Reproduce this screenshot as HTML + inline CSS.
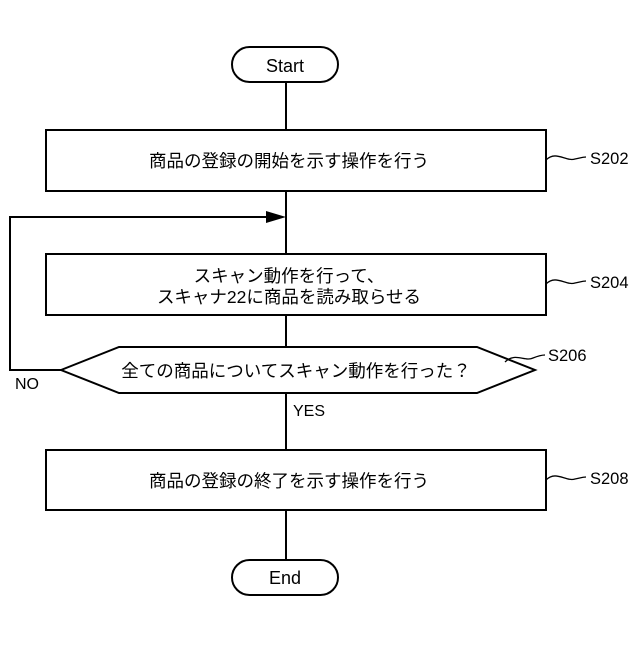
<!DOCTYPE html>
<html><head><meta charset="utf-8"><style>
body{margin:0;background:#fff}
svg text{font-family:"Liberation Sans","Noto Sans CJK JP",sans-serif;fill:#000}
</style></head><body>
<svg width="640" height="640" viewBox="0 0 640 640" xmlns="http://www.w3.org/2000/svg">
<g fill="none" stroke="#000" stroke-width="2">
<line x1="286" y1="82" x2="286" y2="560"/>
<rect x="232" y="47" width="106" height="35" rx="17.5" fill="#fff"/>
<rect x="232" y="560" width="106" height="35" rx="17.5" fill="#fff"/>
<rect x="46" y="130" width="500" height="61" fill="#fff"/>
<rect x="46" y="254" width="500" height="61" fill="#fff"/>
<rect x="46" y="450" width="500" height="60" fill="#fff"/>
<polygon points="61,370 119,347 477,347 535,370 477,393 119,393" fill="#fff"/>
<polyline points="61,370 10,370 10,217 270,217"/>
<path d="M546,160 C556,150 566,162 575,159 C580,158 583,157 586,157" stroke-width="1.3"/>
<path d="M546,284 C556,274 566,286 575,283 C580,282 583,281 586,281" stroke-width="1.3"/>
<path d="M505,362 C515,352 525,362 533,358 C538,356 541,355 545,355" stroke-width="1.3"/>
<path d="M546,480 C556,470 566,482 575,479 C580,478 583,477 586,477" stroke-width="1.3"/>
</g>
<polygon points="286,217 266,211 266,223" fill="#000"/>
<g font-size="18" text-anchor="middle">
<text x="285" y="72">Start</text>
<text x="285" y="584">End</text>
</g>
<g font-size="17.5" text-anchor="middle">
<text x="289" y="167">商品の登録の開始を示す操作を行う</text>
<text x="289" y="282">スキャン動作を行って、</text>
<text x="289" y="303">スキャナ22に商品を読み取らせる</text>
<text x="296" y="377">全ての商品についてスキャン動作を行った？</text>
<text x="289" y="487">商品の登録の終了を示す操作を行う</text>
</g>
<g font-size="16.5">
<text x="590" y="164">S202</text>
<text x="590" y="288">S204</text>
<text x="548" y="361">S206</text>
<text x="590" y="484">S208</text>
</g>
<g font-size="16">
<text x="15" y="389">NO</text>
<text x="293" y="416">YES</text>
</g>
</svg>
</body></html>
